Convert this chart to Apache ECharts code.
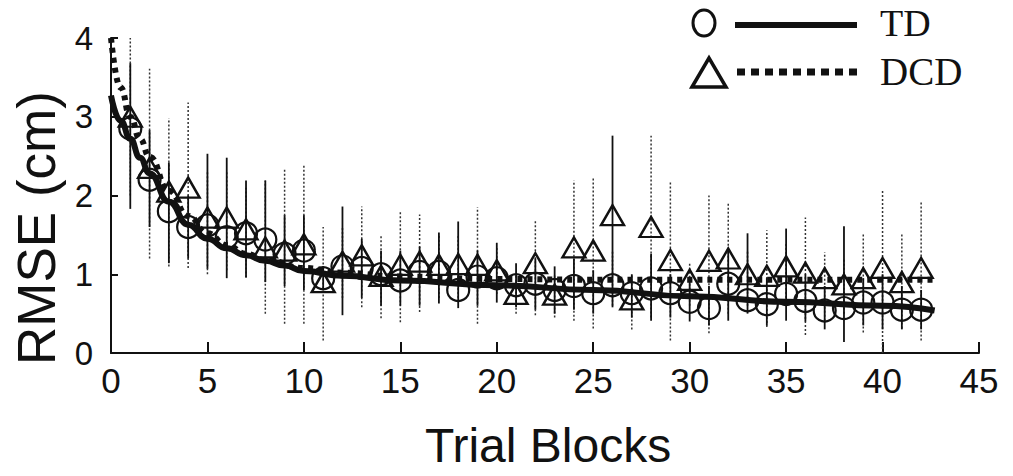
<!DOCTYPE html>
<html>
<head>
<meta charset="utf-8">
<script src="https://cdn.jsdelivr.net/npm/echarts@6/dist/echarts.min.js"></script>
<style>
html,body{margin:0;padding:0;background:#fff;}
#chart{width:1013px;height:476px;}
</style>
</head>
<body>
<div id="chart"></div>
<script>
// trial blocks (x) and the two groups' means
const blocks = [1,2,3,4,5,6,7,8,9,10,11,12,13,14,15,16,17,18,19,20,21,22,23,24,25,26,27,28,29,30,31,32,33,34,35,36,37,38,39,40,41,42];
const tdMean = [2.85,2.2,1.8,1.6,1.62,1.47,1.52,1.44,1.26,1.3,0.95,1.1,1.08,1.0,0.92,1.03,1.03,0.8,0.97,0.95,0.86,0.88,0.8,0.85,0.76,0.86,0.76,0.82,0.76,0.65,0.57,0.88,0.67,0.62,0.75,0.66,0.54,0.57,0.64,0.64,0.55,0.55];
const dcdMean = [3.0,2.35,2.05,2.1,1.72,1.72,1.57,1.34,1.3,1.38,0.9,1.16,1.24,0.98,1.12,1.16,1.12,1.13,1.12,1.05,0.75,1.14,0.74,1.34,1.3,1.75,0.68,1.6,1.18,0.93,1.17,1.2,1.0,0.98,1.1,1.02,0.95,0.87,0.95,1.08,0.9,1.08];

// error bars: solid (TD) and dotted (DCD) low / high ends
const solidLow  = [1.83,1.6,1.14,1.2,1.07,0.95,0.96,0.9,0.85,0.8,0.8,0.48,0.7,0.6,0.6,0.6,0.63,0.57,0.6,0.64,0.58,0.55,0.5,0.55,0.5,0.58,0.45,0.41,0.45,0.4,0.35,0.41,0.5,0.35,0.41,0.4,0.3,0.14,0.35,0.3,0.3,0.3];
const solidHigh = [3.68,2.83,2.42,2.0,2.53,2.48,2.19,2.19,1.75,1.75,1.1,1.86,1.45,1.3,1.3,1.35,1.53,1.67,1.3,1.4,1.14,1.2,1.1,1.2,1.05,2.76,1.0,1.26,1.0,0.95,0.85,1.3,1.52,0.95,1.58,1.0,0.85,1.61,0.95,1.0,0.85,0.8];
const dottedLow  = [2.0,1.2,1.1,1.08,1.0,1.05,0.96,0.5,0.37,0.37,0.16,0.7,0.58,0.44,0.39,0.52,0.7,0.7,0.37,0.75,0.5,0.48,0.45,0.41,0.31,0.6,0.3,0.45,0.16,0.6,0.25,0.5,0.6,0.33,0.7,0.23,0.41,0.5,0.26,0.0,0.31,0.16];
const dottedHigh = [4.0,3.61,2.98,3.18,2.3,2.3,2.1,2.19,2.35,2.38,1.6,1.6,1.86,1.49,1.79,1.76,1.5,1.5,1.85,1.35,1.0,1.68,1.0,2.19,2.23,1.3,1.0,2.76,2.17,1.14,2.0,1.9,1.3,1.56,1.4,1.72,1.28,1.2,1.52,2.07,1.52,1.91];

// fitted curves
const tdFitX = [0,0.5,1,1.5,2,3,4,5,6,7,8,9,10,12,15,20,25,30,35,40,42.7];
const tdFitY = [3.27,2.95,2.72,2.48,2.28,1.92,1.63,1.45,1.33,1.24,1.17,1.11,1.04,0.98,0.92,0.86,0.8,0.72,0.65,0.6,0.54];
const dcdFitX = [0,0.5,1,1.5,2,3,4,5,6,7,8,10,12,15,20,25,30,35,40,42.7];
const dcdFitY = [4.0,3.37,3.0,2.72,2.49,2.06,1.74,1.52,1.37,1.26,1.18,1.08,1.02,0.97,0.94,0.93,0.93,0.93,0.93,0.93];

const xTicks = [0,5,10,15,20,25,30,35,40,45];
const yTicks = [0,1,2,3,4];

const chart = echarts.init(document.getElementById('chart'), null, {renderer:'svg'});

function barItem(dash, width, color){
    return function(params, api){
        const p1 = api.coord([api.value(0), api.value(1)]);
        const p2 = api.coord([api.value(0), api.value(2)]);
        return {
            type:'line',
            shape:{x1:p1[0], y1:p1[1], x2:p2[0], y2:p2[1]},
            style:{stroke:color, lineWidth:width, lineDash:dash}
        };
    };
}

const option = {
    animation:false,
    backgroundColor:'#fff',
    grid:{left:111, right:34, top:38, bottom:123},
    xAxis:{
        type:'value',
        min:xTicks[0], max:xTicks[xTicks.length-1], interval:5,
        axisLine:{lineStyle:{color:'#111', width:2}},
        axisTick:{inside:true, length:11, lineStyle:{color:'#111', width:2}},
        axisLabel:{color:'#111', fontSize:35, fontFamily:'Liberation Sans', margin:10},
        splitLine:{show:false}
    },
    yAxis:{
        type:'value',
        min:yTicks[0], max:yTicks[yTicks.length-1], interval:1,
        axisLine:{show:true, lineStyle:{color:'#111', width:2}},
        axisTick:{show:true, inside:true, length:7, lineStyle:{color:'#111', width:2}},
        axisLabel:{color:'#111', fontSize:33, fontFamily:'Liberation Sans', margin:18},
        splitLine:{show:false}
    },
    graphic:[
        {type:'text', x:36, y:228, rotation:Math.PI/2,
         style:{text:'RMSE (cm)', fill:'#111', font:'53px "Liberation Sans"', textAlign:'center', textVerticalAlign:'middle'}},
        {type:'text', x:548, y:445,
         style:{text:'Trial Blocks', fill:'#111', font:'48px "Liberation Sans"', textAlign:'center', textVerticalAlign:'middle'}},
        // legend
        {type:'ellipse', shape:{cx:704, cy:23, rx:11, ry:13}, style:{fill:'none', stroke:'#111', lineWidth:3}},
        {type:'line', shape:{x1:735, y1:25, x2:857, y2:25}, style:{stroke:'#111', lineWidth:6}},
        {type:'text', x:880, y:23, style:{text:'TD', fill:'#111', font:'38px "Liberation Serif"', textVerticalAlign:'middle'}},
        {type:'polygon', shape:{points:[[692,87],[709,58],[726,87]]}, style:{fill:'none', stroke:'#111', lineWidth:3.5}},
        {type:'line', shape:{x1:737, y1:72, x2:857, y2:72}, style:{stroke:'#111', lineWidth:7, lineDash:[8,6]}},
        {type:'text', x:880, y:71, style:{text:'DCD', fill:'#111', font:'39px "Liberation Serif"', textVerticalAlign:'middle'}}
    ],
    series:[
        {
            name:'DCD SD', type:'custom',
            renderItem:barItem([2,2], 1.5, '#333'),
            data:blocks.map((b,i) => [b, dottedLow[i], dottedHigh[i]]),
            z:1
        },
        {
            name:'TD SD', type:'custom',
            renderItem:barItem(null, 1.8, '#111'),
            data:blocks.map((b,i) => [b, solidLow[i], solidHigh[i]]),
            z:1
        },
        {
            name:'TD fit', type:'line', smooth:true, smoothMonotone:'x', symbol:'none',
            data:tdFitX.map((x,i) => [x, tdFitY[i]]),
            lineStyle:{color:'#111', width:6},
            z:2
        },
        {
            name:'DCD fit', type:'line', smooth:true, smoothMonotone:'x', symbol:'none',
            data:dcdFitX.map((x,i) => [x, dcdFitY[i]]),
            lineStyle:{color:'#111', width:6, type:[5,5]},
            z:2
        },
        {
            name:'TD', type:'scatter', symbol:'circle', symbolSize:22,
            data:blocks.map((b,i) => [b, tdMean[i]]),
            itemStyle:{color:'rgba(0,0,0,0)', borderColor:'#111', borderWidth:2.2, opacity:1},
            z:3
        },
        {
            name:'DCD', type:'scatter', symbol:'triangle', symbolSize:[23,20],
            data:blocks.map((b,i) => [b, dcdMean[i]]),
            itemStyle:{color:'rgba(0,0,0,0)', borderColor:'#111', borderWidth:2.4, opacity:1},
            z:3
        }
    ]
};
chart.setOption(option);
</script>
</body>
</html>
